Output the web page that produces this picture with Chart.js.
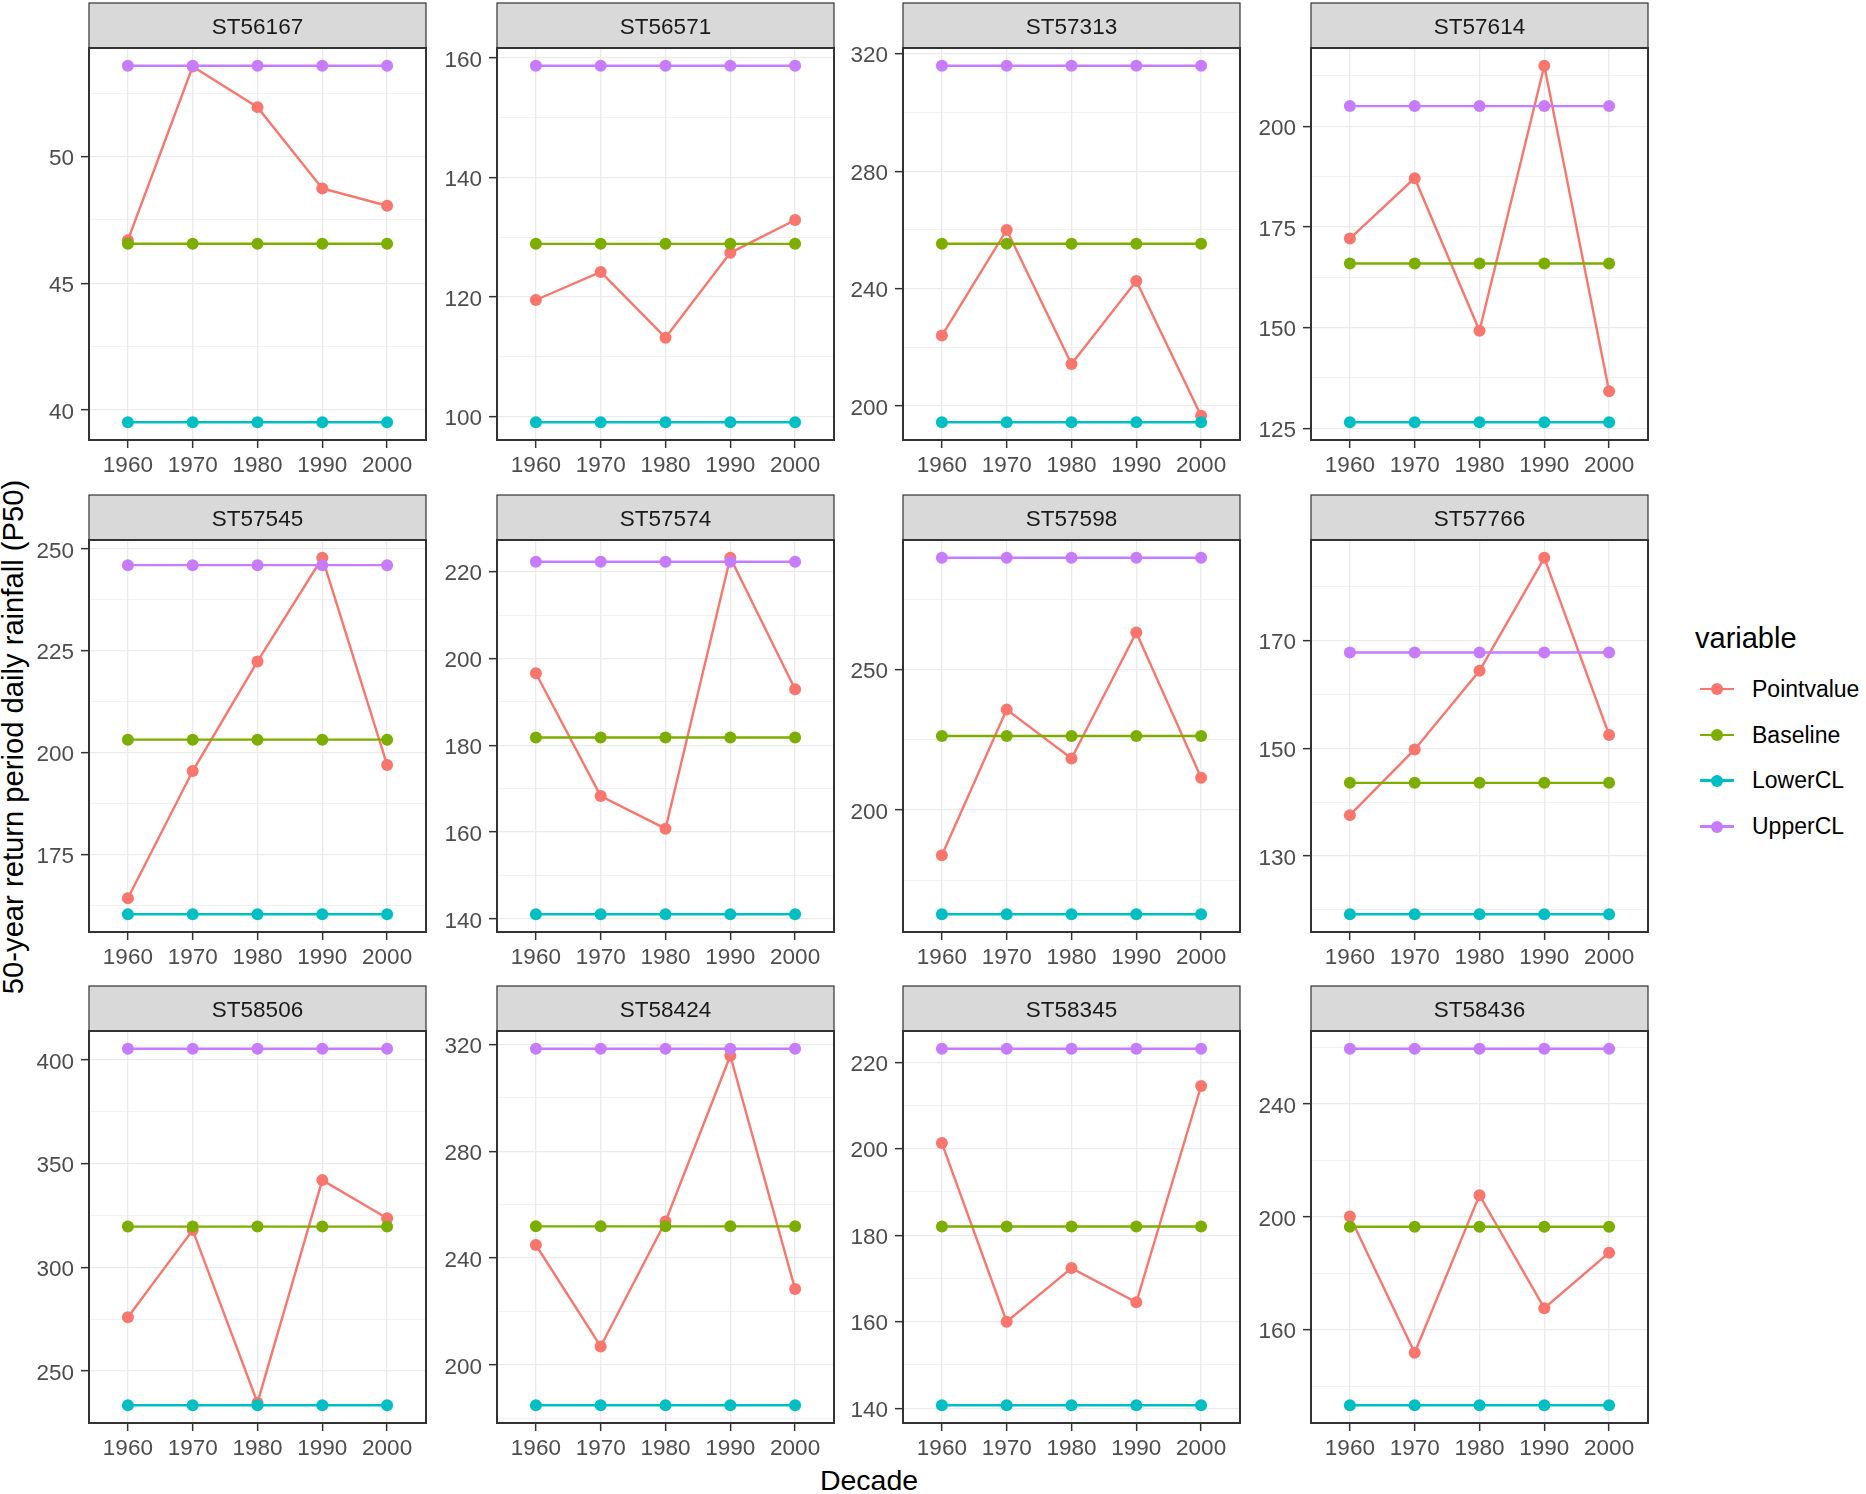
<!DOCTYPE html>
<html>
<head>
<meta charset="utf-8">
<script src="https://cdn.jsdelivr.net/npm/chart.js@4.4.1/dist/chart.umd.min.js"></script>
<style>
  body { margin: 0; background: #fff; }
  #page { position: relative; width: 1866px; height: 1494px; overflow: hidden; font-family: "Liberation Sans", Arial, sans-serif; }
  canvas.panel { position: absolute; }
  .title { position: absolute; color: #000; white-space: nowrap; }
  #ytitle { font-size: 29.2px; line-height: 29.2px; left: 14px; top: 737px; transform: translate(-50%, -50%) rotate(-90deg); }
  #xtitle { font-size: 28.5px; line-height: 28.5px; left: 869px; top: 1466px; transform: translateX(-50%); }
  #legend-title { font-size: 29px; line-height: 29px; left: 1695px; top: 624px; }
  .key { position: absolute; left: 1700px; width: 34px; height: 23px; }
  .key .ln { position: absolute; left: 0; right: 0; top: 10.3px; height: 2.4px; }
  .key .dot { position: absolute; left: 11px; top: 5.5px; width: 12px; height: 12px; border-radius: 50%; }
  .lab { position: absolute; left: 1752px; font-size: 23px; line-height: 23px; height: 23px; color: #000; white-space: nowrap; }
</style>
</head>
<body>
<div id="page">
  <div id="ytitle" class="title">50-year return period daily rainfall (P50)</div>
  <div id="xtitle" class="title">Decade</div>
  <div id="legend-title" class="title">variable</div>
</div>
<script>
// decades on the x axis
const decades = [1960, 1970, 1980, 1990, 2000];

// one entry per facet, in facet order
const stations = ['ST56167', 'ST56571', 'ST57313', 'ST57614',
                  'ST57545', 'ST57574', 'ST57598', 'ST57766',
                  'ST58506', 'ST58424', 'ST58345', 'ST58436'];

const pointvalue = [
  [46.7, 53.55, 51.95, 48.74, 48.06],
  [119.5, 124.2, 113.2, 127.4, 132.9],
  [224.0, 260.0, 214.3, 242.6, 196.7],
  [172.1, 187.1, 149.2, 215.0, 134.2],
  [164.3, 195.5, 222.4, 247.8, 197.0],
  [196.6, 168.3, 160.8, 223.2, 192.9],
  [183.9, 235.8, 218.4, 263.3, 211.5],
  [137.6, 149.8, 164.4, 185.4, 152.5],
  [275.9, 317.9, 234.7, 342.0, 323.6],
  [244.9, 206.9, 253.7, 315.8, 228.4],
  [201.3, 160.0, 172.4, 164.5, 214.5],
  [200.1, 151.8, 207.7, 167.6, 187.3]
];
const baseline = [46.56, 128.9, 255.3, 165.9, 203.2, 181.8, 226.4, 143.6, 319.6, 251.9, 182.0, 196.5];
const lowerCL  = [39.52, 99.05, 194.5, 126.5, 160.4, 141.1, 162.9, 119.2, 233.5, 184.9, 140.7, 133.2];
const upperCL  = [53.58, 158.7, 315.9, 205.0, 246.0, 222.3, 289.9, 167.8, 405.3, 318.4, 223.1, 259.6];

// labelled y breaks per facet
const yBreaks = [
  [40, 45, 50],
  [100, 120, 140, 160],
  [200, 240, 280, 320],
  [125, 150, 175, 200],
  [175, 200, 225, 250],
  [140, 160, 180, 200, 220],
  [200, 250],
  [130, 150, 170],
  [250, 300, 350, 400],
  [200, 240, 280, 320],
  [140, 160, 180, 200, 220],
  [160, 200, 240]
];

const seriesNames  = ['Pointvalue', 'Baseline', 'LowerCL', 'UpperCL'];
const seriesColors = ['#F8766D', '#7CAE00', '#00BFC4', '#C77CFF'];

// facet grid geometry
const colLeft = [89, 497, 903, 1311];
const rowTop = [2, 494, 985];
const plotW = 339, plotH = 392, stripH = 46;
const axisW = 75, axisH = 44, padR = 4;

const tickFont = { family: '"Liberation Sans", Arial, sans-serif', size: 22.5 };

// grey strip and the dark panel border, like theme_bw
const panelFrame = {
    id: 'panelFrame',
    beforeDraw(chart) {
        const { ctx, chartArea: a } = chart;
        ctx.save();
        ctx.fillStyle = '#D9D9D9';
        ctx.fillRect(a.left, 1, a.right - a.left, a.top - 1);
        ctx.strokeStyle = '#333333';
        ctx.lineWidth = 1.2;
        ctx.strokeRect(a.left, 1, a.right - a.left, a.top - 1);
        ctx.restore();
    },
    afterDraw(chart) {
        const { ctx, chartArea: a } = chart;
        ctx.save();
        ctx.strokeStyle = '#333333';
        ctx.lineWidth = 2;
        ctx.strokeRect(a.left, a.top, a.right - a.left, a.bottom - a.top);
        ctx.restore();
    }
};

const page = document.getElementById('page');

stations.forEach((name, i) => {
    const row = Math.floor(i / 4), col = i % 4;
    const canvas = document.createElement('canvas');
    canvas.className = 'panel';
    canvas.width = axisW + plotW + padR;
    canvas.height = stripH + plotH + axisH;
    canvas.style.left = (colLeft[col] - axisW) + 'px';
    canvas.style.top = rowTop[row] + 'px';
    page.appendChild(canvas);

    const values = [
        pointvalue[i],
        decades.map(() => baseline[i]),
        decades.map(() => lowerCL[i]),
        decades.map(() => upperCL[i])
    ];

    // ggplot-style 5% expansion of the data range
    const all = values.flat();
    const lo = Math.min(...all), hi = Math.max(...all);
    const yMin = lo - (hi - lo) * 0.05;
    const yMax = hi + (hi - lo) * 0.05;

    const br = yBreaks[i];
    const step = br[1] - br[0];
    const minors = br.map(b => b - step / 2).concat([br[br.length - 1] + step / 2]);
    const yTicks = br.concat(minors).filter(v => v >= yMin && v <= yMax).sort((a, b) => a - b);
    const isMajor = v => br.includes(v);

    new Chart(canvas.getContext('2d'), {
        type: 'line',
        data: {
            datasets: seriesNames.map((s, k) => ({
                label: s,
                data: decades.map((d, j) => ({ x: d, y: values[k][j] })),
                borderColor: seriesColors[k],
                backgroundColor: seriesColors[k],
                borderWidth: 2.4,
                pointRadius: 6,
                pointBorderWidth: 0,
                pointHoverRadius: 6,
                tension: 0,
                order: 4 - k
            }))
        },
        options: {
            responsive: false,
            animation: false,
            devicePixelRatio: 1,
            layout: { padding: { left: 0, right: padR, top: 0, bottom: 0 } },
            plugins: {
                legend: { display: false },
                tooltip: { enabled: false },
                title: {
                    display: true,
                    text: name,
                    fullSize: false,
                    color: '#1A1A1A',
                    font: { family: tickFont.family, size: 22.5, weight: 'normal', lineHeight: 1.2 },
                    padding: { top: 11.8, bottom: 7.2 }
                }
            },
            scales: {
                x: {
                    type: 'linear',
                    min: 1954,
                    max: 2006,
                    afterBuildTicks: s => { s.ticks = decades.map(v => ({ value: v })); },
                    afterFit: s => { s.height = axisH; },
                    border: { display: false },
                    grid: { color: '#EBEBEB', lineWidth: 1.3, tickLength: 8, tickColor: '#333333', tickWidth: 1.5 },
                    ticks: { autoSkip: false, maxRotation: 0, padding: 4, color: '#4D4D4D', font: tickFont,
                             callback: v => String(v) }
                },
                y: {
                    type: 'linear',
                    min: yMin,
                    max: yMax,
                    afterBuildTicks: s => { s.ticks = yTicks.map(v => ({ value: v })); },
                    afterFit: s => { s.width = axisW; },
                    border: { display: false },
                    grid: {
                        color: '#EBEBEB',
                        lineWidth: c => isMajor(c.tick.value) ? 1.3 : 0.7,
                        tickLength: 8,
                        tickColor: c => isMajor(c.tick.value) ? '#333333' : 'rgba(0,0,0,0)',
                        tickWidth: 1.5
                    },
                    ticks: { autoSkip: false, padding: 7, labelOffset: 2.5, color: '#4D4D4D', font: tickFont,
                             callback: v => isMajor(v) ? String(v) : '' }
                }
            }
        },
        plugins: [panelFrame]
    });
});

// shared legend for the "variable" colour scale
const keyCenters = [689.3, 735, 780.5, 826.7];
seriesNames.forEach((s, k) => {
    const key = document.createElement('div');
    key.className = 'key';
    key.style.top = (keyCenters[k] - 11.5) + 'px';
    key.innerHTML = '<div class="ln" style="background:' + seriesColors[k] + '"></div>' +
                    '<div class="dot" style="background:' + seriesColors[k] + '"></div>';
    page.appendChild(key);
    const lab = document.createElement('div');
    lab.className = 'lab';
    lab.style.top = (keyCenters[k] - 11.5) + 'px';
    lab.textContent = s;
    page.appendChild(lab);
});
</script>
</body>
</html>
